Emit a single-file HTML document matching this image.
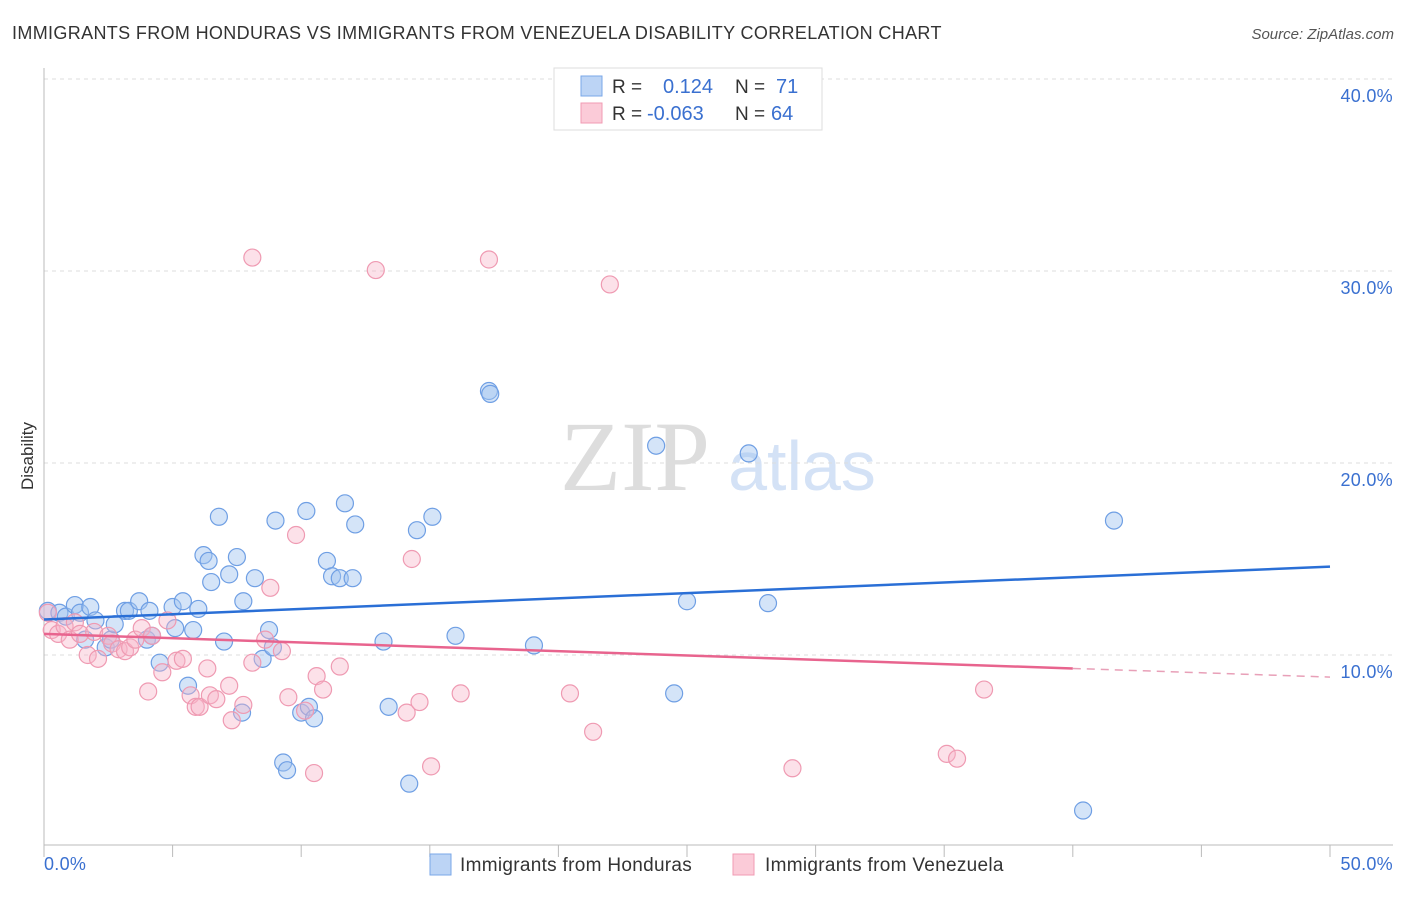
<!DOCTYPE html>
<html><head><meta charset="utf-8"><style>
body{margin:0;background:#fff;font-family:"Liberation Sans",sans-serif}
svg text{font-family:"Liberation Sans",sans-serif}
</style></head><body>
<svg width="1406" height="892" xmlns="http://www.w3.org/2000/svg">
<text x="12" y="39" font-size="18" fill="#333" letter-spacing="0.35">IMMIGRANTS FROM HONDURAS VS IMMIGRANTS FROM VENEZUELA DISABILITY CORRELATION CHART</text>
<text x="1394" y="39" font-size="15" fill="#555" text-anchor="end" font-style="italic">Source: ZipAtlas.com</text>
<text x="635" y="490" font-size="100" fill="#ddd" text-anchor="middle" style="font-family:'Liberation Serif',serif">ZIP</text>
<text x="802" y="490" font-size="70" fill="#d4e2f6" text-anchor="middle">atlas</text>
<g id="grid"></g>
<g id="axes"></g>
<g id="pts"></g>
<g id="lines"></g>
<text x="33" y="456" font-size="17" fill="#333" text-anchor="middle" transform="rotate(-90 33 456)">Disability</text>
<g>
<rect x="554" y="68" width="268" height="62" fill="#fff" stroke="#ddd"/>
<rect x="581" y="76" width="21" height="20" fill="#bcd4f5" stroke="#7aa7e8"/>
<rect x="581" y="103" width="21" height="20" fill="#fbcbd8" stroke="#f09bb3"/>
<text x="612" y="93" font-size="19" fill="#333">R =</text><text x="663" y="93" font-size="20" fill="#3a70d0">0.124</text>
<text x="735" y="93" font-size="19" fill="#333">N =</text><text x="776" y="93" font-size="20" fill="#3a70d0">71</text>
<text x="612" y="120" font-size="19" fill="#333">R =</text><text x="647" y="120" font-size="20" fill="#3a70d0">-0.063</text>
<text x="735" y="120" font-size="19" fill="#333">N =</text><text x="771" y="120" font-size="20" fill="#3a70d0">64</text>
</g>
<g>
<rect x="430" y="854" width="21" height="21" fill="#bcd4f5" stroke="#7aa7e8"/>
<text x="460" y="871" font-size="19" fill="#333" letter-spacing="0.3">Immigrants from Honduras</text>
<rect x="733" y="854" width="21" height="21" fill="#fbcbd8" stroke="#f09bb3"/>
<text x="765" y="871" font-size="19" fill="#333" letter-spacing="0.3">Immigrants from Venezuela</text>
</g>
</svg>
<script>
const yTicks=[10,20,30,40];
const yTickLabels=["10.0%","20.0%","30.0%","40.0%"];
const xTicks=[0,5,10,15,20,25,30,35,40,45,50];
const blueX=[0.15,0.6,0.85,1.2,1.4,1.8,2.0,1.6,2.4,3.15,3.3,3.7,4.0,4.2,4.5,5.0,5.1,5.4,5.6,5.8,6.0,6.2,6.4,6.5,6.8,7.0,7.2,7.5,7.7,7.75,8.2,8.5,8.75,8.9,9.0,9.3,9.45,10.0,10.2,10.3,10.5,11.0,11.2,11.5,11.7,12.0,12.1,13.2,13.4,14.2,14.5,15.1,16.0,17.3,17.35,19.05,23.8,24.5,25.0,27.4,28.15,40.4,41.6,2.6,2.75,4.1];
const blueY=[12.3,12.2,12.0,12.6,12.2,12.5,11.8,10.8,10.4,12.3,12.3,12.8,10.8,11.0,9.6,12.5,11.4,12.8,8.4,11.3,12.4,15.2,14.9,13.8,17.2,10.7,14.2,15.1,7.0,12.8,14.0,9.8,11.3,10.4,17.0,4.4,4.0,7.0,17.5,7.3,6.7,14.9,14.1,14.0,17.9,14.0,16.8,10.7,7.3,3.3,16.5,17.2,11.0,23.75,23.6,10.5,20.9,8.0,12.8,20.5,12.7,1.9,17.0,10.8,11.6,12.3];
const pinkX=[0.15,0.3,0.55,0.8,1.0,1.2,1.4,1.7,1.95,2.1,2.5,2.65,2.9,3.15,3.35,3.55,3.8,4.05,4.2,4.6,4.8,5.15,5.4,5.7,5.9,6.05,6.35,6.45,6.7,7.2,7.3,7.75,8.1,8.1,8.6,8.8,9.25,9.5,9.8,10.15,10.5,10.6,10.85,11.5,12.9,14.1,14.3,14.6,15.05,16.2,17.3,20.45,21.35,22.0,29.1,35.1,35.5,36.55];
const pinkY=[12.2,11.3,11.1,11.5,10.8,11.7,11.1,10.0,11.2,9.8,11.0,10.6,10.3,10.2,10.4,10.8,11.4,8.1,11.0,9.1,11.8,9.7,9.8,7.9,7.3,7.3,9.3,7.9,7.7,8.4,6.6,7.4,30.7,9.6,10.8,13.5,10.2,7.8,16.25,7.1,3.85,8.9,8.2,9.4,30.05,7.0,15.0,7.55,4.2,8.0,30.6,8.0,6.0,29.3,4.1,4.85,4.6,8.2];
const blueLine=[[0,11.85],[50,14.6]];
const pinkLine=[[0,11.1],[40,9.3]];
const pinkDash=[[40,9.3],[50,8.85]];
const X=v=>44+v*25.72, Y=v=>847-v*19.2;
const NS="http://www.w3.org/2000/svg";
function mk(tag,attrs,parent){const e=document.createElementNS(NS,tag);for(const k in attrs)e.setAttribute(k,attrs[k]);document.getElementById(parent).appendChild(e);return e;}
yTicks.forEach((t,i)=>{
 const g=mk('line',{x1:44,x2:1393,y1:Y(t),y2:Y(t),stroke:'#ddd','stroke-dasharray':'4,4'},'grid');
 
 
 const tx=mk('text',{x:1393,y:Y(t)+23,'font-size':18,fill:'#3a70d0','text-anchor':'end','letter-spacing':'0.3'},'axes');
 tx.textContent=yTickLabels[i];
 
 
});
const ax=mk('line',{x1:44,x2:1393,y1:845,y2:845,stroke:'#bbb'},'axes');


const ay=mk('line',{x1:44,x2:44,y1:68,y2:845,stroke:'#bbb'},'axes');


xTicks.forEach(t=>{const l=mk('line',{x1:X(t),x2:X(t),y1:845,y2:857,stroke:'#bbb'},'axes');
 
 });
const x0=mk('text',{x:44,y:870,'font-size':18,fill:'#3a70d0','letter-spacing':'0.3'},'axes');x0.textContent='0.0%';


const x1=mk('text',{x:1393,y:870,'font-size':18,fill:'#3a70d0','text-anchor':'end','letter-spacing':'0.3'},'axes');x1.textContent='50.0%';


blueX.forEach((v,i)=>{const c=mk('circle',{cx:X(v),cy:Y(blueY[i]),r:8.5,fill:'rgba(160,195,240,0.45)',stroke:'#6f9fe4','stroke-width':1.2},'pts');
 
 });
pinkX.forEach((v,i)=>{const c=mk('circle',{cx:X(v),cy:Y(pinkY[i]),r:8.5,fill:'rgba(248,180,200,0.4)',stroke:'#ef9ab2','stroke-width':1.2},'pts');
 
 });
const bl=mk('line',{x1:X(blueLine[0][0]),y1:Y(blueLine[0][1]),x2:X(blueLine[1][0]),y2:Y(blueLine[1][1]),stroke:'#2a6fd6','stroke-width':2.5},'lines');


const pl=mk('line',{x1:X(pinkLine[0][0]),y1:Y(pinkLine[0][1]),x2:X(pinkLine[1][0]),y2:Y(pinkLine[1][1]),stroke:'#e8648e','stroke-width':2.5},'lines');


const pd=mk('line',{x1:X(pinkDash[0][0]),y1:Y(pinkDash[0][1]),x2:X(pinkDash[1][0]),y2:Y(pinkDash[1][1]),stroke:'#e8a0b8','stroke-width':1.5,'stroke-dasharray':'8,6'},'lines');


</script>
</body></html>
